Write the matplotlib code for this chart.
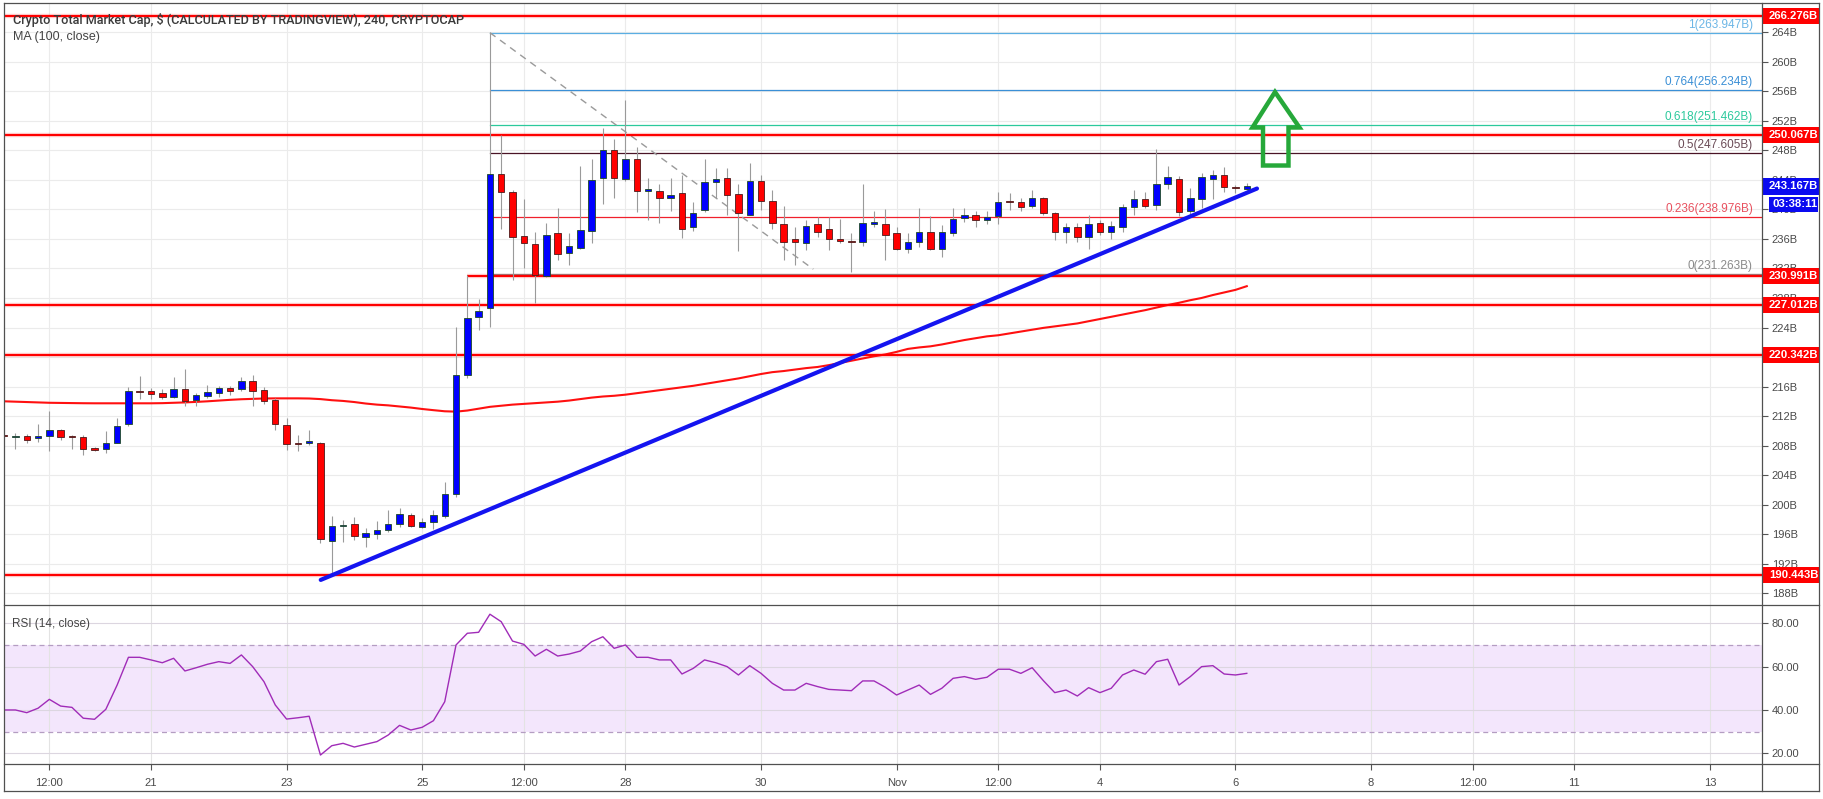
import numpy as np
import matplotlib
matplotlib.use("Agg")
import matplotlib.pyplot as plt
from matplotlib.patches import Rectangle, Polygon
from matplotlib.lines import Line2D
import matplotlib.transforms as mtransforms

plt.rcParams['font.family'] = ['Liberation Sans', 'DejaVu Sans']

# ---------------- data ----------------
T0 = 18 + 20 / 24.0          # first 4h candle: Oct 18 20:00 (x in days of October)
CANDLE_STEP = 1 / 6.0

opens = [209.35, 209.10, 209.26, 209.00, 209.34, 210.07, 209.25, 209.20, 207.55, 207.50,
         208.40, 210.90, 215.40, 215.35, 215.10, 214.60, 215.70, 214.20, 214.75, 215.10,
         215.76, 215.60, 216.75, 215.50, 214.20, 210.80, 208.35, 208.30, 208.30, 195.10,
         197.10, 197.40, 195.65, 196.00, 196.50, 197.40, 198.60, 197.00, 197.70, 198.50,
         201.40, 217.50, 225.40, 226.70, 244.80, 242.30, 236.40, 235.30, 231.00, 236.85,
         234.05, 234.80, 237.10, 244.20, 248.05, 244.10, 246.90, 242.55, 242.50, 241.50,
         242.20, 237.60, 239.90, 243.75, 244.20, 242.05, 239.30, 243.80, 241.20, 238.00,
         236.00, 235.40, 238.00, 237.30, 235.95, 235.70, 235.55, 238.00, 238.00, 236.75,
         234.70, 235.60, 236.90, 234.60, 236.80, 238.80, 239.30, 238.60, 239.10, 241.10,
         240.95, 240.40, 241.50, 239.50, 236.90, 237.60, 236.30, 238.10, 236.90, 237.65,
         240.30, 241.40, 240.55, 243.50, 244.10, 239.80, 241.40, 244.10, 244.60, 242.90,
         242.80]
highs = [209.45, 209.70, 209.60, 210.90, 212.70, 210.30, 209.50, 209.40, 207.75, 210.00,
         211.70, 216.00, 217.40, 215.80, 215.65, 217.30, 218.40, 215.10, 216.20, 216.10,
         216.10, 217.30, 217.50, 216.00, 214.40, 211.70, 209.40, 210.10, 208.50, 198.40,
         197.90, 198.30, 196.80, 197.80, 199.30, 199.50, 198.90, 198.15, 199.30, 203.10,
         224.10, 231.10, 227.80, 263.95, 250.10, 242.60, 241.40, 237.00, 238.10, 240.20,
         236.80, 245.90, 246.80, 251.00, 249.60, 254.80, 248.50, 244.20, 243.50, 244.20,
         244.70, 241.05, 246.80, 245.60, 245.60, 243.50, 246.25, 244.65, 242.60, 240.40,
         237.65, 238.55, 239.00, 239.00, 238.70, 236.80, 243.40, 239.80, 240.00, 237.65,
         236.80, 240.15, 239.10, 237.90, 240.15, 240.15, 239.80, 239.80, 242.40, 242.20,
         241.50, 242.60, 241.70, 239.60, 238.10, 238.10, 239.25, 238.55, 238.40, 240.80,
         242.60, 242.30, 248.15, 245.90, 244.50, 242.85, 245.00, 245.40, 245.80, 243.30,
         243.55]
lows = [209.15, 207.60, 208.30, 208.50, 207.20, 208.75, 207.60, 206.70, 207.30, 207.00,
        208.30, 210.60, 214.30, 214.30, 214.30, 214.40, 213.30, 213.40, 214.40, 214.60,
        214.90, 215.40, 213.40, 213.70, 210.10, 207.40, 207.20, 208.10, 194.80, 190.50,
        195.00, 195.20, 194.20, 195.30, 196.30, 197.00, 197.00, 196.80, 196.65, 198.15,
        201.10, 217.10, 223.70, 224.10, 237.40, 230.40, 232.00, 227.30, 230.90, 233.20,
        232.50, 234.60, 235.40, 240.80, 241.50, 243.90, 239.70, 238.60, 238.10, 239.80,
        236.10, 237.10, 239.70, 241.50, 239.25, 234.40, 239.20, 239.90, 237.40, 233.20,
        232.50, 234.50, 236.30, 234.50, 235.50, 231.55, 235.00, 237.65, 233.15, 234.50,
        234.05, 234.95, 234.50, 233.60, 236.40, 238.30, 237.65, 238.00, 238.00, 239.90,
        239.80, 240.15, 239.25, 235.90, 235.50, 235.60, 234.60, 236.55, 235.95, 237.00,
        239.25, 240.15, 239.90, 242.70, 239.10, 239.25, 240.15, 241.40, 242.40, 242.20,
        242.60]
closes = [209.25, 209.15, 208.80, 209.26, 210.07, 209.20, 209.15, 207.60, 207.45, 208.30,
          210.70, 215.35, 215.30, 215.03, 214.60, 215.70, 214.10, 214.80, 215.20, 215.80,
          215.43, 216.70, 215.45, 214.10, 210.90, 208.20, 208.25, 208.60, 195.40, 197.10,
          197.20, 195.70, 196.10, 196.60, 197.40, 198.70, 197.10, 197.65, 198.60, 201.40,
          217.60, 225.25, 226.20, 244.80, 242.30, 236.20, 235.40, 231.10, 236.50, 233.90,
          235.10, 237.20, 244.00, 248.05, 244.30, 246.80, 242.50, 242.65, 241.50, 241.90,
          237.40, 239.55, 243.75, 244.10, 241.90, 239.50, 243.80, 241.20, 238.10, 235.55,
          235.55, 237.80, 237.00, 235.95, 235.70, 235.55, 238.10, 238.30, 236.60, 234.70,
          235.60, 236.90, 234.70, 236.90, 238.70, 239.20, 238.50, 239.00, 240.95, 240.95,
          240.30, 241.50, 239.55, 237.00, 237.65, 236.30, 238.00, 236.90, 237.75, 240.30,
          241.40, 240.45, 243.50, 244.35, 239.70, 241.50, 244.35, 244.60, 243.00, 242.85,
          243.17]
ma100 = [214.0, 213.95, 213.9, 213.85, 213.8, 213.78, 213.76, 213.74, 213.73, 213.73,
         213.73, 213.73, 213.73, 213.73, 213.75, 213.8, 213.85, 213.92, 214.0, 214.1,
         214.2, 214.28, 214.33, 214.38, 214.4, 214.4, 214.4, 214.38, 214.3, 214.15,
         214.05, 213.9, 213.7, 213.55, 213.45, 213.3, 213.15, 212.96, 212.8, 212.65,
         212.6, 212.75, 213.0, 213.25, 213.4, 213.55, 213.65, 213.75, 213.85, 213.95,
         214.1, 214.3, 214.5, 214.65, 214.75, 214.9, 215.1, 215.3, 215.5, 215.7,
         215.9, 216.1, 216.35, 216.6, 216.85, 217.1, 217.4, 217.7, 217.95, 218.1,
         218.3, 218.5, 218.65, 218.9, 219.2, 219.5, 219.8, 220.1, 220.35, 220.7,
         221.1, 221.3, 221.45, 221.7, 222.0, 222.3, 222.55, 222.8, 222.95, 223.2,
         223.45, 223.7, 223.95, 224.15, 224.35, 224.55, 224.85, 225.15, 225.45, 225.75,
         226.05, 226.35, 226.7, 227.05, 227.35, 227.7, 228.0, 228.4, 228.75, 229.1,
         229.6]
rsi14 = [40.0, 40.0, 38.75, 40.8, 44.9, 41.8, 41.2, 36.2, 35.7, 40.3,
         51.5, 64.3, 64.3, 63.1, 61.8, 63.85, 58.0, 59.5, 61.1, 62.3,
         61.5, 65.4, 60.0, 53.05, 42.3, 35.8, 36.4, 37.1, 19.2, 23.5,
         24.6, 22.9, 24.15, 25.4, 28.45, 32.9, 30.75, 32.0, 35.05, 43.8,
         70.0, 75.4, 75.85, 84.2, 80.75, 71.8, 70.3, 64.9, 68.0, 64.9,
         65.8, 67.2, 71.5, 73.8, 68.45, 70.0, 64.3, 64.3, 63.1, 63.1,
         56.6, 59.2, 63.1, 61.8, 60.0, 56.15, 60.45, 56.9, 52.3, 49.2,
         49.2, 52.3, 50.8, 49.5, 49.2, 48.9, 53.4, 53.4, 50.5, 46.9,
         49.2, 51.5, 47.2, 50.0, 54.6, 55.4, 54.15, 55.1, 58.8, 58.8,
         56.9, 59.5, 53.5, 48.0, 49.2, 46.45, 50.3, 48.0, 50.0, 56.15,
         58.45, 56.5, 62.3, 63.4, 51.5, 55.4, 60.0, 60.45, 56.6, 56.15,
         56.9]

RED_LEVELS = [266.276, 250.067, 230.991, 227.012, 220.342, 190.443]
RED_START_IDX = [None, None, 41, None, None, None]

FIB_NAMES = ['1', '0.764', '0.618', '0.5', '0.236', '0']
FIB_LEVELS = [263.947, 256.234, 251.462, 247.605, 238.976, 231.263]
FIB_LINE_COLORS = ['#5aaee3', '#3a8fd6', '#2cc99c', '#4a1426', '#f0202c', '#8a8a8a']
FIB_TEXT_COLORS = ['#6cb6e6', '#3a8fd6', '#2cc99c', '#6a4a55', '#e8505e', '#8a8a8a']
FIB_START_IDX = 43

TREND_T = [23.504, 37.317]
TREND_P = [189.8, 242.83]
DIAG_T = [26.0, 30.771]
DIAG_P = [263.947, 231.9]

ARROW_T = [37.583, 37.944, 37.782, 37.782, 37.406, 37.406, 37.251]
ARROW_P = [255.91, 251.10, 251.10, 245.95, 245.95, 251.10, 251.10]

LAST_PRICE = 243.167
COUNTDOWN = '03:38:11'

XTICK_DAYS = [19.5, 21, 23, 25, 26.5, 28, 30, 32, 33.5, 35, 37, 39, 40.5, 42, 44]
XTICK_LABELS = ['12:00', '21', '23', '25', '12:00', '28', '30', 'Nov', '12:00', '4', '6',
                '8', '12:00', '11', '13']
PRICE_TICKS = list(range(188, 265, 4))
RSI_TICKS = [20, 40, 60, 80]

TITLE = 'Crypto Total Market Cap, $ (CALCULATED BY TRADINGVIEW), 240, CRYPTOCAP'

# ---------------- layout ----------------
W, H = 1824, 799
fig = plt.figure(figsize=(W / 100, H / 100), dpi=100)
fig.patch.set_facecolor('white')

L, R = 4, 1762
RR = 1819
T_MAIN, B_MAIN, B_RSI, B_ALL = 3, 605, 764, 791

def fx(px):
    return px / W

def fy(py):
    return 1 - py / H

ax = fig.add_axes([fx(L), fy(B_MAIN), (R - L) / W, (B_MAIN - T_MAIN) / H])
axr = fig.add_axes([fx(L), fy(B_RSI), (R - L) / W, (B_RSI - B_MAIN) / H])

XMIN, XMAX = 18.831, 44.768
YMIN, YMAX = 186.40, 267.97
RMIN, RMAX = 15.06, 88.45
for a in (ax, axr):
    a.set_xlim(XMIN, XMAX)
    a.set_facecolor('white')
    for s in a.spines.values():
        s.set_visible(False)
ax.set_ylim(YMIN, YMAX)
axr.set_ylim(RMIN, RMAX)

o = np.array(opens); h = np.array(highs); lo = np.array(lows); c = np.array(closes)
t = T0 + np.arange(len(o)) * CANDLE_STEP

GRID = '#ebebeb'
for v in PRICE_TICKS:
    ax.axhline(v, color=GRID, lw=0.8, zorder=0.5)
for d in XTICK_DAYS:
    ax.axvline(d, color=GRID, lw=0.8, zorder=0.5)
    axr.axvline(d, color='#e3e3e3', lw=0.8, zorder=0.6)

# MA
ax.plot(t, ma100, color='#ff1010', lw=1.5, zorder=3)

# red support / resistance
for lv, si in zip(RED_LEVELS, RED_START_IDX):
    x0 = XMIN if si is None else t[si]
    ax.plot([x0, XMAX], [lv, lv], color='#ff0000', lw=1.5, zorder=3.2, solid_capstyle='butt')
    ax.plot([x0, XMAX], [lv, lv], color='#ff0000', lw=3.2, alpha=0.18, zorder=3.1,
            solid_capstyle='butt')

# fib
for lv, col in zip(FIB_LEVELS, FIB_LINE_COLORS):
    ax.plot([t[FIB_START_IDX], XMAX], [lv, lv], color=col, lw=0.9, zorder=2.8)
ax.plot(DIAG_T, DIAG_P, color='#9a9a9a', lw=1.0, ls=(0, (5, 4)), zorder=2.9)

# candles
up = c >= o
ax.vlines(t, lo, h, color='#9a9a9a', lw=0.8, zorder=4)
bb = np.minimum(o, c)
bh = np.maximum(np.abs(c - o), 0.16)
BW = 0.095
ax.bar(t[up], bh[up], bottom=bb[up], width=BW, color='#0000ff', edgecolor='#1e4a22',
       linewidth=0.6, zorder=5)
ax.bar(t[~up], bh[~up], bottom=bb[~up], width=BW, color='#ff0000', edgecolor='#4a1a1a',
       linewidth=0.6, zorder=5)

# blue trend line
ax.plot(TREND_T, TREND_P, color='#1414f0', lw=3.0, zorder=6, solid_capstyle='round')

# green arrow
ax.add_patch(Polygon(list(zip(ARROW_T, ARROW_P)), closed=True, fill=False,
                     edgecolor='#26a83a', lw=3.2, joinstyle='miter', zorder=7))

# fib labels
blend = mtransforms.blended_transform_factory(ax.transAxes, ax.transData)
lab_tr = mtransforms.offset_copy(blend, fig=fig, x=0, y=2, units='dots')
xlab = (1753 - L) / (R - L)
for name, lv, col in zip(FIB_NAMES, FIB_LEVELS, FIB_TEXT_COLORS):
    ax.text(xlab, lv, f'{name}({lv:.3f}B)', transform=lab_tr, ha='right', va='bottom',
            fontsize=8.5, color=col, zorder=8)

# y axis (price)
ax.yaxis.tick_right()
ax.set_yticks(PRICE_TICKS)
ax.set_yticklabels([f'{v}B' for v in PRICE_TICKS])
ax.tick_params(axis='y', length=4, width=0.8, color='#555555', labelsize=8,
               labelcolor='#4a4a4a', pad=3)
ax.set_xticks([])

# RSI
axr.axhspan(30, 70, color='#f3e6fc', zorder=0.2, lw=0)
for v in RSI_TICKS:
    axr.axhline(v, color='#dcd6e0', lw=0.8, zorder=0.7)
for v in (70, 30):
    axr.axhline(v, color='#b49dc2', lw=0.9, ls=(0, (4, 3)), zorder=0.8)
axr.plot(t, rsi14, color='#a02cb8', lw=1.0, zorder=3)
axr.yaxis.tick_right()
axr.set_yticks(RSI_TICKS)
axr.set_yticklabels([f'{v:.2f}' for v in RSI_TICKS])
axr.tick_params(axis='y', length=4, width=0.8, color='#555555', labelsize=8,
                labelcolor='#4a4a4a', pad=3)
axr.set_xticks(XTICK_DAYS)
axr.set_xticklabels(XTICK_LABELS)
axr.tick_params(axis='x', length=4, width=0.8, color='#555555', labelsize=8,
                labelcolor='#4a4a4a', pad=6)

# price labels on axis
ppb = (B_MAIN - T_MAIN) / (YMAX - YMIN)
box_w = (RR - R) / (R - L)
for lv in RED_LEVELS:
    bh_ = 16 / ppb
    ax.add_patch(Rectangle((1.0, lv - bh_ / 2), box_w, bh_, transform=blend,
                           facecolor='#ff0000', edgecolor='none', clip_on=False, zorder=10))
    ax.text(1.0 + 7 / (R - L), lv, f'{lv:.3f}B', transform=blend, color='white',
            fontsize=8.2, fontweight='bold', ha='left', va='center', clip_on=False, zorder=11)

bh_ = 17 / ppb
ax.add_patch(Rectangle((1.0, LAST_PRICE - bh_ / 2), box_w, bh_, transform=blend,
                       facecolor='#0a0af0', edgecolor='none', clip_on=False, zorder=10))
ax.text(1.0 + 7 / (R - L), LAST_PRICE, f'{LAST_PRICE:.3f}B', transform=blend, color='white',
        fontsize=8.2, fontweight='bold', ha='left', va='center', clip_on=False, zorder=11)
cd_y = LAST_PRICE - 18 / ppb
bh2 = 15 / ppb
ax.add_patch(Rectangle((1.0 + 7 / (R - L), cd_y - bh2 / 2), (RR - 1 - R - 7) / (R - L), bh2,
                       transform=blend, facecolor='#0a0af0', edgecolor='none', clip_on=False,
                       zorder=10))
ax.text(1.0 + 11 / (R - L), cd_y, COUNTDOWN, transform=blend, color='white',
        fontsize=8.2, fontweight='bold', ha='left', va='center', clip_on=False, zorder=11)

# legends / titles
renderer = fig.canvas.get_renderer()

def fit(txt, target):
    w = txt.get_window_extent(renderer=renderer).width
    txt.set_fontsize(txt.get_fontsize() * target / w)

t1 = fig.text(fx(13), fy(20), TITLE, fontsize=9, color='#3a3a3a', fontweight='medium',
              family=['Roboto', 'Liberation Sans', 'DejaVu Sans'],
              ha='left', va='center', zorder=20)
fit(t1, 452)
t2 = fig.text(fx(13), fy(37), 'MA (100, close)', fontsize=9, color='#444444',
              ha='left', va='center', zorder=20)
fit(t2, 87)
t3 = fig.text(fx(12), fy(624), 'RSI (14, close)', fontsize=9, color='#444444',
              ha='left', va='center', zorder=20)
fit(t3, 78)

# frame lines (pixel coords)
FRAME = '#505050'
def hline(y, x0, x1):
    fig.add_artist(Line2D([fx(x0), fx(x1)], [fy(y), fy(y)], color=FRAME, lw=0.9, zorder=30))

def vline(x, y0, y1):
    fig.add_artist(Line2D([fx(x), fx(x)], [fy(y0), fy(y1)], color=FRAME, lw=0.9, zorder=30))

hline(T_MAIN, L, RR)
hline(B_MAIN, L, RR)
hline(B_RSI, L, RR)
hline(B_ALL, L, RR)
vline(L, T_MAIN, B_ALL)
vline(R, T_MAIN, B_ALL)
vline(RR, T_MAIN, B_ALL)

fig.savefig('out.png', dpi=100, facecolor='white')
